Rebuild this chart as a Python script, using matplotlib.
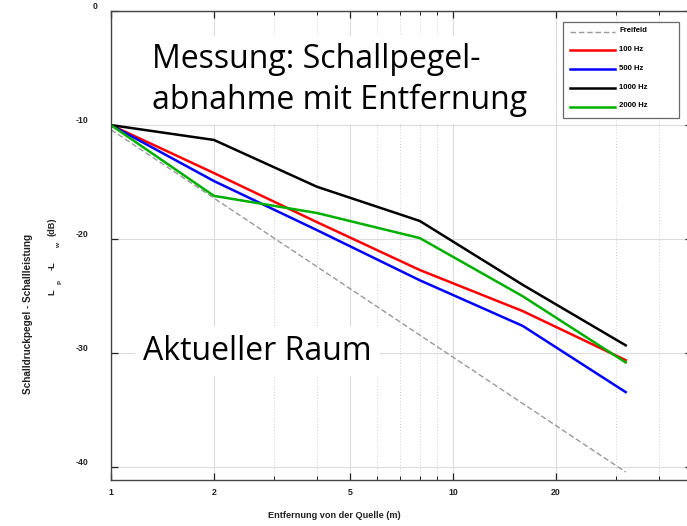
import matplotlib
matplotlib.use("Agg")
import matplotlib.pyplot as plt
import matplotlib.transforms as mtransforms
from matplotlib.ticker import FixedLocator, NullFormatter

# abstand von der quelle (m)
distance = [1, 2, 4, 8, 16, 32]

freifeld = [-10.4, -16.4, -22.4, -28.4, -34.4, -40.4]
hz100 = [-10.0, -14.2, -18.5, -22.7, -26.3, -30.6]
hz500 = [-10.0, -14.9, -19.2, -23.6, -27.6, -33.4]
hz1000 = [-10.0, -11.3, -15.4, -18.4, -24.0, -29.3]
hz2000 = [-10.0, -16.2, -17.7, -19.9, -25.0, -30.8]

series_labels = ["Freifeld", "100 Hz", "500 Hz", "1000 Hz", "2000 Hz"]
x_ticks = [1, 2, 5, 10, 20, 50]
x_minor = [3, 4, 6, 7, 8, 9, 30, 40]
y_ticks = [0, -10, -20, -30, -40]

W, H = 687, 526
fig = plt.figure(figsize=(W / 100, H / 100), dpi=100)
ax = fig.add_axes([111 / W, (H - 480) / H, (692 - 111) / W, (480 - 11) / H])

ax.set_xscale("log")
ax.set_xlim(1, 50)
ax.set_ylim(-41.1, 0)

ax.xaxis.set_major_locator(FixedLocator(x_ticks))
ax.xaxis.set_minor_locator(FixedLocator(x_minor))
ax.xaxis.set_minor_formatter(NullFormatter())
ax.set_xticklabels([str(t) for t in x_ticks])
ax.set_yticks(y_ticks)
ax.set_yticklabels([str(t) for t in y_ticks])

ax.grid(True, which="major", color="#dcdcdc", lw=0.8, ls="-")
ax.grid(True, which="minor", axis="x", color="#d0d0d0", lw=0.7, ls=(0, (1, 2)))
ax.set_axisbelow(True)

ax.tick_params(which="both", direction="in", top=True, right=True,
               labelsize=6.3, colors="#222222")
ax.tick_params(which="major", length=5, width=0.9)
ax.tick_params(which="minor", length=3, width=0.7)
ax.tick_params(axis="x", pad=6)
ax.tick_params(axis="y", pad=16)
for lab in ax.get_xticklabels() + ax.get_yticklabels():
    lab.set_fontweight("bold")
    lab.set_fontfamily("Liberation Sans")
# y labels sit a bit above their tick, the "0" also a bit to the right
shift = mtransforms.ScaledTranslation(0, 4 / 72, fig.dpi_scale_trans)
shift0 = mtransforms.ScaledTranslation(6 / 72, 4 / 72, fig.dpi_scale_trans)
for i, lab in enumerate(ax.get_yticklabels()):
    lab.set_transform(lab.get_transform() + (shift0 if i == 0 else shift))

for s in ax.spines.values():
    s.set_color("#444444")
    s.set_linewidth(1.0)

ax.plot(distance, freifeld, color="#999999", lw=1.0, ls=(0, (4, 2)), label=series_labels[0])
ax.plot(distance, hz100, color="#ff0000", lw=1.8, label=series_labels[1])
ax.plot(distance, hz500, color="#0000ff", lw=1.8, label=series_labels[2])
ax.plot(distance, hz1000, color="#000000", lw=1.8, label=series_labels[3])
ax.plot(distance, hz2000, color="#00b000", lw=1.8, label=series_labels[4])

leg = ax.legend(loc="upper left",
                bbox_to_anchor=(563 / W, 1 - 125 / H, 116 / W, 103 / H),
                bbox_transform=fig.transFigure, mode="expand",
                frameon=True, fancybox=False,
                prop={"family": "Liberation Sans", "weight": "bold", "size": 5.6},
                handlelength=5.8, handletextpad=0.5, labelspacing=1.45,
                borderpad=0.9, borderaxespad=0)
leg.get_frame().set_edgecolor("#444444")
leg.get_frame().set_linewidth(0.9)
for t in leg.get_texts():
    t.set_va("bottom")

big_font = "Open Sans"
fig.text(152 / W, 1 - 80 / H, "Messung: Schallpegel-\nabnahme mit Entfernung",
         fontsize=23, family=big_font, ha="left", va="center", linespacing=1.3,
         bbox=dict(facecolor="white", edgecolor="none", pad=5))
fig.text(143 / W, 1 - 351 / H, "Aktueller Raum",
         fontsize=23, family=big_font, ha="left", va="center",
         bbox=dict(facecolor="white", edgecolor="none", pad=6))

fig.text(28 / W, 1 - 314 / H, "Schalldruckpegel - Schallleistung", rotation=90,
         fontsize=7.2, weight="bold", family="Liberation Sans", color="#222222",
         ha="center", va="center")
# L_p - L_w (dB), pieces as laid out in the original
for txt, px, py, fs in [("L", 52, 292, 6.6), ("p", 59, 282, 4.6), ("-L", 52, 266, 6.6),
                        ("w", 59, 246, 4.6), ("(dB)", 52, 227, 6.6)]:
    fig.text(px / W, 1 - py / H, txt, rotation=90, fontsize=fs,
             weight="bold", family="Liberation Sans", color="#222222",
             ha="center", va="center")

fig.text(334 / W, 1 - 516 / H, "Entfernung von der Quelle (m)", fontsize=6.6,
         weight="bold", family="Liberation Sans", color="#222222",
         ha="center", va="center")

fig.savefig("out.png", dpi=100)
